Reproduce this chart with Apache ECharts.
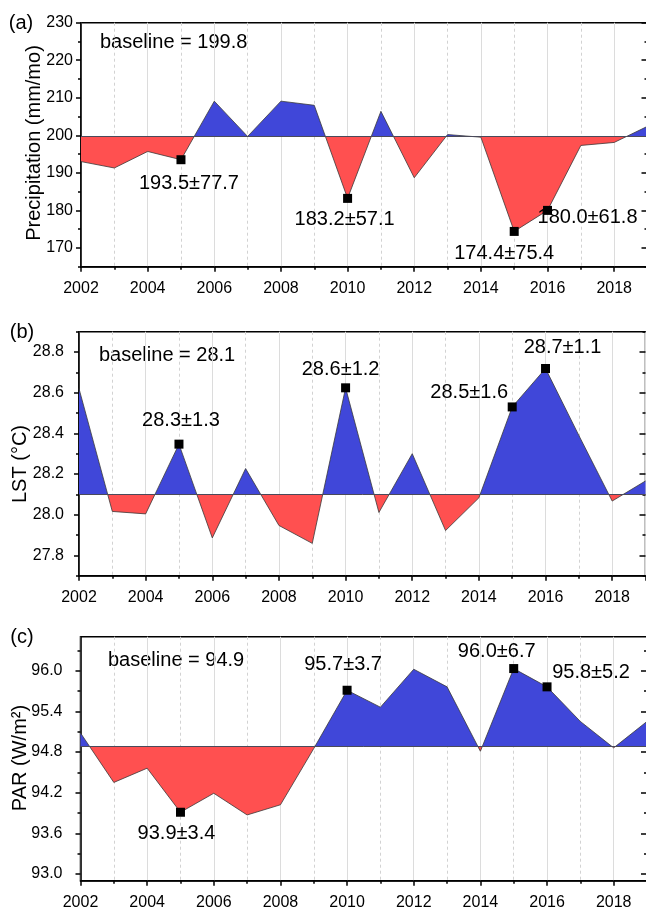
<!DOCTYPE html>
<html>
<head>
<meta charset="utf-8">
<title>Precipitation, LST and PAR anomalies</title>
<script src="https://cdn.jsdelivr.net/npm/echarts@6/dist/echarts.min.js"></script>
<style>
    html, body { margin: 0; padding: 0; background: #fff; }
    #main { width: 646px; height: 909px; }
</style>
</head>
<body>
<div id="main"></div>
<script>
// x axis
var years = [2002, 2003, 2004, 2005, 2006, 2007, 2008, 2009, 2010,
             2011, 2012, 2013, 2014, 2015, 2016, 2017, 2018, 2019];

// (a) precipitation
var precip = [193.0, 191.3, 195.7, 193.5, 209.1, 199.7, 209.1, 208.0, 183.2,
              206.4, 188.7, 200.2, 199.5, 174.4, 180.0, 197.3, 198.1, 202.4];
var precipBase = 199.8;
var precipRange = [165, 230];
var precipTicks = [170, 180, 190, 200, 210, 220, 230];
var precipMinor = [165, 175, 185, 195, 205, 215, 225];
var precipMarkYears = [2005, 2010, 2015, 2016];
var precipMarkText = ['193.5±77.7', '183.2±57.1', '174.4±75.4', '180.0±61.8'];

// (b) LST
var lst = [28.62, 28.016, 28.004, 28.347, 27.886, 28.227, 27.947, 27.859, 28.624,
           28.011, 28.30, 27.922, 28.083, 28.53, 28.719, 28.39, 28.067, 28.166];
var lstBase = 28.1;
var lstRange = [27.7, 28.9];
var lstTicks = [27.8, 28.0, 28.2, 28.4, 28.6, 28.8];
var lstMinor = [27.7, 27.9, 28.1, 28.3, 28.5, 28.7, 28.9];
var lstMarkYears = [2005, 2010, 2015, 2016];
var lstMarkText = ['28.3±1.3', '28.6±1.2', '28.5±1.6', '28.7±1.1'];

// (c) PAR
var par = [95.08, 94.35, 94.56, 93.91, 94.19, 93.87, 94.02, 94.85, 95.71,
           95.46, 96.02, 95.76, 94.81, 96.03, 95.76, 95.25, 94.86, 95.25];
var parBase = 94.88;
var parRange = [92.9, 96.5];
var parTicks = [93.0, 93.6, 94.2, 94.8, 95.4, 96.0];
var parMinor = [93.3, 93.9, 94.5, 95.1, 95.7, 96.3];
var parMarkYears = [2005, 2010, 2015, 2016];
var parMarkText = ['93.9±3.4', '95.7±3.7', '96.0±6.7', '95.8±5.2'];

var FONT = '"Liberation Sans", Arial, sans-serif';
var BLUE = '#4047d9';
var RED = '#ff5050';

var panels = [
    {data: precip, base: precipBase, range: precipRange, ticks: precipTicks, minor: precipMinor,
     markYears: precipMarkYears, markText: precipMarkText, digits: 0,
     baseText: 'baseline = 199.8', title: 'Precipitation (mm/mo)', letter: '(a)',
     left: 81, top: 22.7, labelMargin: 8, titleX: 34, titleY: 143, letterX: 21, letterY: 23,
     baseX: 100, baseY: 42,
     offsets: [[8, 24], [-3, 21], [-10, 22], [40, 7]]},
    {data: lst, base: lstBase, range: lstRange, ticks: lstTicks, minor: lstMinor,
     markYears: lstMarkYears, markText: lstMarkText, digits: 1,
     baseText: 'baseline = 28.1', title: 'LST (°C)', letter: '(b)',
     left: 79, top: 331.7, labelMargin: 15, titleX: 20, titleY: 464, letterX: 22, letterY: 332,
     baseX: 99, baseY: 355,
     offsets: [[2, -24], [-5, -18], [-43, -14], [17, -21]]},
    {data: par, base: parBase, range: parRange, ticks: parTicks, minor: parMinor,
     markYears: parMarkYears, markText: parMarkText, digits: 1,
     baseText: 'baseline = 94.9', title: 'PAR (W/m²)', letter: '(c)',
     left: 80.5, top: 636.7, labelMargin: 18, titleX: 20.5, titleY: 758, letterX: 22, letterY: 637,
     baseX: 108, baseY: 660,
     offsets: [[-4, 21], [-4, -26], [-17, -17], [44, -14]]}
];

var chart = echarts.init(document.getElementById('main'));
var option = {
    animation: false,
    backgroundColor: '#fff',
    textStyle: {fontFamily: FONT},
    grid: [], xAxis: [], yAxis: [], series: [], graphic: []
};

var black = {color: '#000', width: 1.5};

/*面积填充：基线以上蓝色，以下红色（按多边形包围盒分段）*/
function splitFill(values, base) {
    var hi = Math.max(base, Math.max.apply(null, values)),
        lo = Math.min(base, Math.min.apply(null, values)),
        t = (hi - base) / (hi - lo);
    return {
        type: 'linear', x: 0, y: 0, x2: 0, y2: 1,
        colorStops: [
            {offset: 0, color: BLUE}, {offset: t, color: BLUE},
            {offset: t, color: RED}, {offset: 1, color: RED}
        ]
    };
}

panels.forEach(function (p, i) {
    option.grid.push({
        left: p.left, top: p.top, width: 566.5, height: 244,
        show: true, borderColor: '#000', borderWidth: 1.5,
        containLabel: false, outerBoundsMode: 'none'
    });
    option.xAxis.push({
        type: 'value', gridIndex: i, min: 2002, max: 2019, interval: 2,
        axisLine: {show: true, onZero: false, lineStyle: black},
        axisTick: {show: true, length: 5, lineStyle: black},
        minorTick: {show: true, splitNumber: 2, length: 3, lineStyle: black},
        axisLabel: {color: '#000', fontSize: 16, fontFamily: FONT, margin: 14,
                    formatter: function (v) { return String(v); }},
        splitLine: {show: true, lineStyle: {color: '#dcdcdc', width: 1}},
        minorSplitLine: {show: true, lineStyle: {color: '#d2d2d2', width: 1, type: [3, 3]}}
    });

    var yMain = option.yAxis.length;
    // 左轴主刻度和标签
    option.yAxis.push({
        type: 'value', gridIndex: i, position: 'left', min: p.range[0], max: p.range[1],
        axisLine: {show: true, onZero: false, lineStyle: black},
        axisTick: {show: true, length: 5, customValues: p.ticks, lineStyle: black},
        axisLabel: {show: true, customValues: p.ticks, color: '#000', fontSize: 16, fontFamily: FONT,
                    margin: p.labelMargin,
                    formatter: function (v) { return v.toFixed(p.digits); }},
        splitLine: {show: false}
    });
    // 左轴次刻度
    option.yAxis.push({
        type: 'value', gridIndex: i, position: 'left', min: p.range[0], max: p.range[1],
        axisLine: {show: false},
        axisTick: {show: true, length: 3, customValues: p.minor, lineStyle: black},
        axisLabel: {show: false},
        splitLine: {show: false}
    });
    // 右轴（刻度朝内）
    option.yAxis.push({
        type: 'value', gridIndex: i, position: 'right', min: p.range[0], max: p.range[1],
        axisLine: {show: false},
        axisTick: {show: true, inside: true, length: 6, customValues: p.ticks, lineStyle: black},
        axisLabel: {show: false},
        splitLine: {show: false}
    });
    option.yAxis.push({
        type: 'value', gridIndex: i, position: 'right', min: p.range[0], max: p.range[1],
        axisLine: {show: false},
        axisTick: {show: true, inside: true, length: 3, customValues: p.minor, lineStyle: black},
        axisLabel: {show: false},
        splitLine: {show: false}
    });

    option.series.push({
        type: 'line', xAxisIndex: i, yAxisIndex: yMain,
        data: years.map(function (y, k) { return [y, p.data[k]]; }),
        symbol: 'none', z: 2,
        lineStyle: {color: '#3a3a3a', width: 0.8},
        areaStyle: {origin: p.base, opacity: 1, color: splitFill(p.data, p.base)},
        markLine: {
            silent: true, symbol: 'none', label: {show: false},
            lineStyle: {color: '#4a4a5a', width: 1, type: 'solid'},
            data: [{yAxis: p.base}]
        }
    });

    option.series.push({
        type: 'scatter', xAxisIndex: i, yAxisIndex: yMain, z: 5,
        symbol: 'rect', symbolSize: 9,
        itemStyle: {color: '#000', opacity: 1},
        label: {show: true, position: 'inside', formatter: '{b}', color: '#000',
                opacity: 1, textBorderWidth: 0, fontSize: 20, fontFamily: FONT},
        data: p.markYears.map(function (y, k) {
            return {
                name: p.markText[k],
                value: [y, p.data[years.indexOf(y)]],
                label: {offset: p.offsets[k]}
            };
        })
    });

    option.graphic.push({
        type: 'text', x: p.letterX, y: p.letterY,
        style: {text: p.letter, fontSize: 20, fontFamily: FONT, fill: '#000',
                align: 'center', verticalAlign: 'middle'}
    });
    option.graphic.push({
        type: 'text', x: p.titleX, y: p.titleY, rotation: Math.PI / 2,
        style: {text: p.title, fontSize: 20, fontFamily: FONT, fill: '#000',
                align: 'center', verticalAlign: 'middle'}
    });
    option.graphic.push({
        type: 'text', x: p.baseX, y: p.baseY,
        style: {text: p.baseText, fontSize: 20, fontFamily: FONT, fill: '#000',
                align: 'left', verticalAlign: 'middle'}
    });
});

chart.setOption(option);
window.addEventListener('resize', function () { chart.resize(); });
</script>
</body>
</html>
